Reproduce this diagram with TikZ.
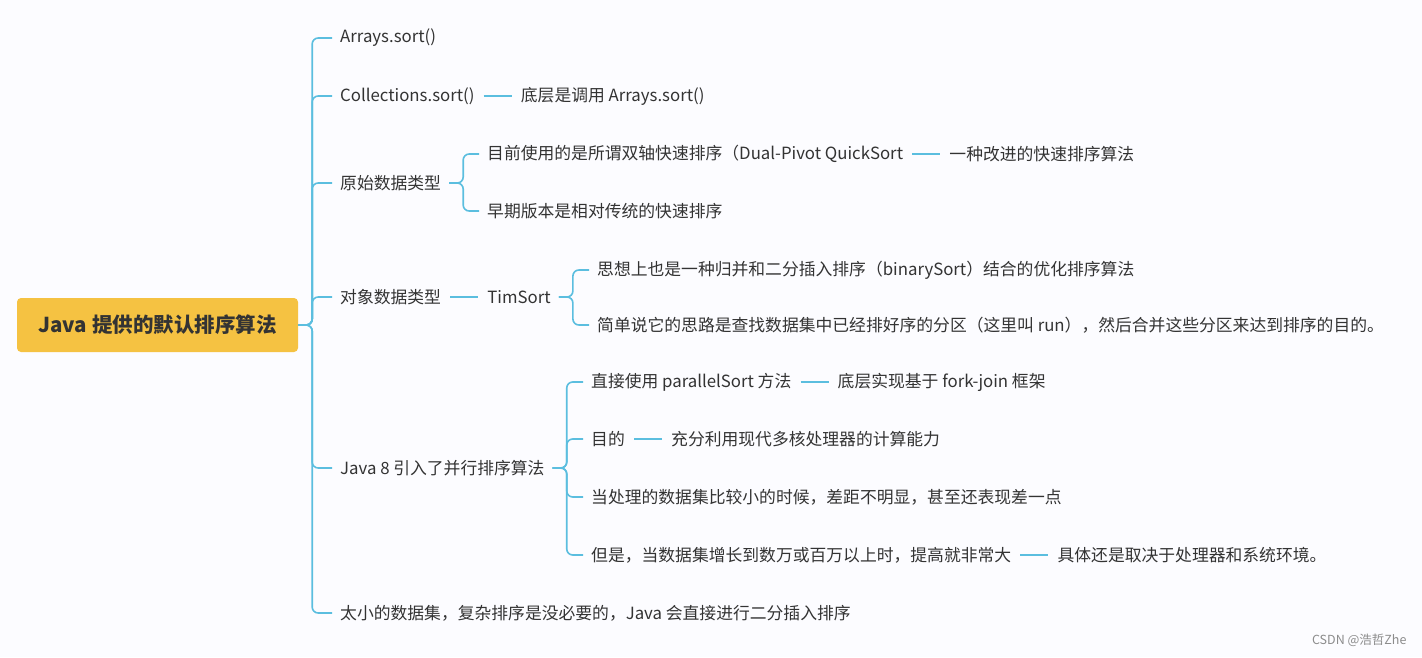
\documentclass[tikz,border=0pt]{standalone}
\usepackage{fontspec}
\usetikzlibrary{positioning}
\setmainfont{Noto Sans CJK SC}
\definecolor{lnc}{HTML}{5BBEDF}
\definecolor{rootc}{HTML}{F5C242}
\begin{document}
\begin{tikzpicture}[x=1pt,y=-1pt,
  t/.style={anchor=west,inner sep=4pt,font=\fontsize{16.8}{19}\selectfont,text=black!80},
  ln/.style={draw=lnc,line width=1.6pt,rounded corners=6pt},
  cn/.style={ln,shorten <=5pt,shorten >=5pt}]
\fill[black!2!blue!1!white] (0,0) rectangle (1422,657);
\useasboundingbox (0,0) rectangle (1422,657);
\node[fill=rootc,rounded corners=4pt,minimum width=281pt,minimum height=54pt,font=\bfseries\fontsize{20.5}{23}\selectfont,text=black!80] (root) at (157.5,325) {Java 提供的默认排序算法};
\node[t] (a) at (336,38) {Arrays.sort()};
\node[t] (b) at (336,96) {Collections.sort()};
\node[t,right=38pt of b] (b1) {底层是调用 Arrays.sort()};
\node[t] (c) at (336,183) {原始数据类型};
\node[t] (c1) at (483,154) {目前使用的是所谓双轴快速排序（Dual-Pivot QuickSort};
\node[t,right=38pt of c1] (c11) {一种改进的快速排序算法};
\node[t] (c2) at (483,211) {早期版本是相对传统的快速排序};
\node[t] (d) at (336,297) {对象数据类型};
\node[t,right=38pt of d] (d1) {TimSort};
\node[t] (d11) at (593,270) {思想上也是一种归并和二分插入排序（binarySort）结合的优化排序算法};
\node[t] (d12) at (593,325) {简单说它的思路是查找数据集中已经排好序的分区（这里叫 run），然后合并这些分区来达到排序的目的。};
\node[t] (e) at (336,468) {Java 8 引入了并行排序算法};
\node[t] (e1) at (587,382) {直接使用 parallelSort 方法};
\node[t,right=38pt of e1] (e11) {底层实现基于 fork-join 框架};
\node[t] (e2) at (587,439) {目的};
\node[t,right=38pt of e2] (e21) {充分利用现代多核处理器的计算能力};
\node[t] (e3) at (587,497) {当处理的数据集比较小的时候，差距不明显，甚至还表现差一点};
\node[t] (e4) at (587,555) {但是，当数据集增长到数万或百万以上时，提高就非常大};
\node[t,right=38pt of e4] (e41) {具体还是取决于处理器和系统环境。};
\node[t] (f) at (336,613) {太小的数据集，复杂排序是没必要的，Java 会直接进行二分插入排序};
\node[anchor=east,font=\fontsize{12.5}{14}\selectfont,text=black!45] (wm) at (1410,640) {CSDN @浩哲Zhe};
\foreach \n in {a,b,c,d,e,f} \draw[ln] (root.east) -- ++(14,0) |- ([xshift=-4pt]\n.west);
\foreach \n in {c1,c2} \draw[ln] ([xshift=4pt]c.east) -- ++(14,0) |- ([xshift=-4pt]\n.west);
\foreach \n in {d11,d12} \draw[ln] ([xshift=4pt]d1.east) -- ++(14,0) |- ([xshift=-4pt]\n.west);
\foreach \n in {e1,e2,e3,e4} \draw[ln] ([xshift=4pt]e.east) -- ++(14,0) |- ([xshift=-4pt]\n.west);
\draw[cn] (b.east) -- (b1.west);
\draw[cn] (c1.east) -- (c11.west);
\draw[cn] (d.east) -- (d1.west);
\draw[cn] (e1.east) -- (e11.west);
\draw[cn] (e2.east) -- (e21.west);
\draw[cn] (e4.east) -- (e41.west);
\end{tikzpicture}
\end{document}
